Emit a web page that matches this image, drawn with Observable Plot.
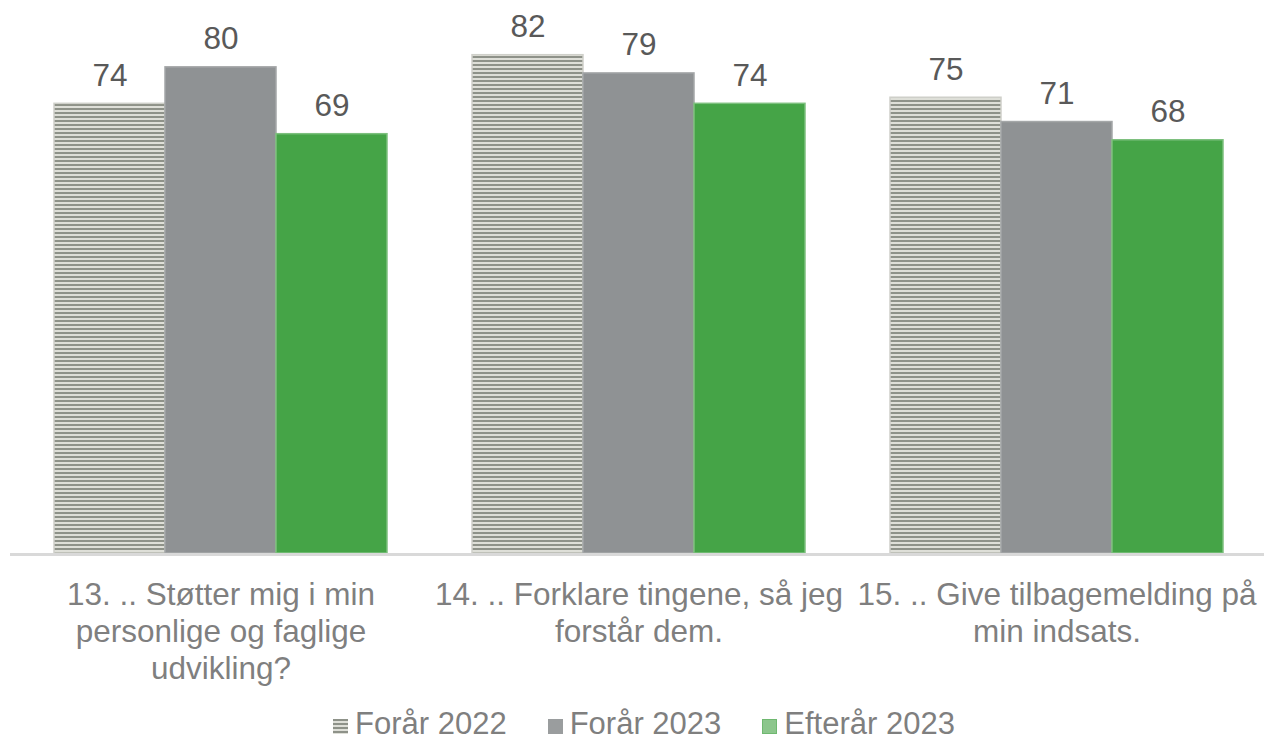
<!DOCTYPE html>
<html>
<head>
<meta charset="utf-8">
<script src="https://cdn.jsdelivr.net/npm/d3@7"></script>
<script src="https://cdn.jsdelivr.net/npm/@observablehq/plot@0.6"></script>
<style>
  html, body { margin: 0; padding: 0; background: #fff; }
  body { width: 1264px; height: 739px; overflow: hidden; font-family: "Liberation Sans", Arial, sans-serif; }
  #chart svg { display: block; }
  #legend { height: 49px; box-sizing: border-box; padding-top: 19px; padding-left: 333px; font-size: 31px; line-height: 29px; color: #7f7f7f; white-space: nowrap; }
  .item { display: inline-block; margin-right: 41px; }
  .sw { display: inline-block; width: 15px; height: 15px; margin-right: 7px; vertical-align: baseline; }
</style>
</head>
<body>
<div id="chart"></div>
<div id="legend"></div>
<script>
const categories = ["13", "14", "15"];
const categoryLabels = [
  "13. .. Støtter mig i min\npersonlige og faglige\nudvikling?",
  "14. .. Forklare tingene, så jeg\nforstår dem.",
  "15. .. Give tilbagemelding på\nmin indsats."
];
const series = ["Forår 2022", "Forår 2023", "Efterår 2023"];
const valuesForaar2022 = [74, 82, 75];
const valuesForaar2023 = [80, 79, 71];
const valuesEfteraar2023 = [69, 74, 68];

const seriesValues = [valuesForaar2022, valuesForaar2023, valuesEfteraar2023];
const seriesFill = ["url(#stripes)", "#8f9294", "#45a447"];
const seriesStroke = ["#cfd0ca", "#a4a7a8", "#7dc07e"];

const rows = [];
series.forEach((s, si) => categories.forEach((c, ci) => rows.push({category: c, series: s, value: seriesValues[si][ci]})));
const labelOf = new Map(categories.map((c, i) => [c, categoryLabels[i]]));

const chart = Plot.plot({
  width: 1264,
  height: 690,
  marginTop: 0,
  marginBottom: 137,
  marginLeft: 52,
  marginRight: 38,
  style: {fontFamily: "'Liberation Sans', Arial, sans-serif", background: "white"},
  fx: {domain: categories, paddingInner: 0.198, paddingOuter: 0, label: null},
  x: {domain: series, padding: 0, axis: null},
  y: {domain: [0, 91], axis: null},
  marks: [
    ...series.map((s, si) => Plot.barY(rows.filter(d => d.series === s), {
      fx: "category", x: "series", y: "value",
      fill: seriesFill[si], stroke: seriesStroke[si], strokeWidth: 1.5, inset: 0
    })),
    Plot.text(rows, {
      fx: "category", x: "series", y: "value",
      text: d => String(d.value), dy: -18, lineAnchor: "bottom",
      fontSize: 31.5, fill: "#595959"
    }),
    Plot.axisFx({
      anchor: "bottom", tickSize: 0, tickPadding: 25, fontSize: 31.5, lineHeight: 1.175,
      color: "#7f7f7f", tickFormat: c => labelOf.get(c), label: null, lineWidth: Infinity
    })
  ]
});

// pattern definition for the striped series
const svg = d3.select(chart);
const defs = svg.insert("defs", ":first-child");
const pat = defs.append("pattern").attr("id", "stripes").attr("patternUnits", "userSpaceOnUse")
  .attr("width", 8).attr("height", 4);
pat.append("rect").attr("width", 8).attr("height", 4).attr("fill", "#dedfd8");
pat.append("rect").attr("width", 8).attr("height", 2).attr("fill", "#8e9289");

// baseline across the full width
const y0 = chart.scale("y").apply(0);
svg.append("line").attr("x1", 10).attr("x2", 1264).attr("y1", y0 + 1.5).attr("y2", y0 + 1.5)
  .attr("stroke", "#d9d9d9").attr("stroke-width", 3);

document.getElementById("chart").appendChild(chart);

// legend
const legend = d3.select("#legend");
const swatchCss = [
  "background: repeating-linear-gradient(to bottom, #8e9289 0 2px, #dedfd8 2px 4px);",
  "background: #9a9d9e;",
  "background: #8cc68c; box-shadow: inset 0 0 0 1px #6fb870;"
];
series.forEach((s, i) => {
  const it = legend.append("span").attr("class", "item");
  it.append("span").attr("class", "sw").attr("style", swatchCss[i]);
  it.append("span").text(s);
});
</script>
</body>
</html>
